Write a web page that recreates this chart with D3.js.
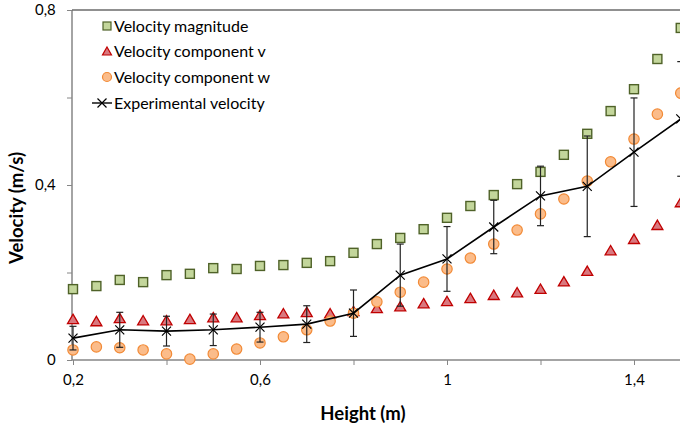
<!DOCTYPE html>
<html>
<head>
<meta charset="utf-8">
<script src="https://cdn.jsdelivr.net/npm/d3@7"></script>
<style>
  html, body { margin: 0; padding: 0; background: #fff; }
  svg { display: block; }
  text { font-family: Lato, "Open Sans", sans-serif; fill: #000; }
</style>
</head>
<body>
<svg id="chart" width="680" height="429"></svg>
<script>
// Height positions (m) of the simulated profile
const heights = [0.2, 0.25, 0.3, 0.35, 0.4, 0.45, 0.5, 0.55, 0.6, 0.65, 0.7, 0.75, 0.8, 0.85,
  0.9, 0.95, 1.0, 1.05, 1.1, 1.15, 1.2, 1.25, 1.3, 1.35, 1.4, 1.45, 1.5];
const velocityMagnitude = [0.162, 0.169, 0.183, 0.178, 0.194, 0.197, 0.210, 0.208, 0.215, 0.217,
  0.222, 0.226, 0.245, 0.265, 0.279, 0.299, 0.325, 0.352, 0.377, 0.402, 0.430, 0.469, 0.517,
  0.569, 0.619, 0.688, 0.759];
const componentV = [0.094, 0.089, 0.096, 0.091, 0.091, 0.094, 0.098, 0.098, 0.103, 0.107, 0.110,
  0.107, 0.112, 0.119, 0.123, 0.130, 0.135, 0.142, 0.149, 0.155, 0.163, 0.180, 0.204, 0.251,
  0.277, 0.309, 0.361];
const componentW = [0.023, 0.030, 0.028, 0.023, 0.014, 0.002, 0.014, 0.025, 0.039, 0.053, 0.069,
  0.089, 0.107, 0.133, 0.155, 0.178, 0.208, 0.233, 0.265, 0.297, 0.334, 0.368, 0.409, 0.453,
  0.505, 0.562, 0.610];

// Measured profile with uncertainty
const expHeights = [0.2, 0.3, 0.4, 0.5, 0.6, 0.7, 0.8, 0.9, 1.0, 1.1, 1.2, 1.3, 1.4, 1.5];
const expVelocity = [0.050, 0.069, 0.066, 0.069, 0.075, 0.082, 0.107, 0.194, 0.231, 0.304, 0.375,
  0.397, 0.475, 0.551];
const expError = [0.027, 0.040, 0.034, 0.036, 0.034, 0.042, 0.053, 0.071, 0.074, 0.061, 0.068,
  0.115, 0.124, 0.131];

const xTicks = [0.2, 0.4, 0.6, 0.8, 1.0, 1.2, 1.4];
const xTickLabels = ["0,2", "", "0,6", "", "1", "", "1,4"];
const yTicks = [0, 0.2, 0.4, 0.6, 0.8];
const yTickLabels = ["0", "", "0,4", "", "0,8"];

const legendLabels = ["Velocity magnitude", "Velocity component v", "Velocity component w",
  "Experimental velocity"];

const svg = d3.select("#chart");
const axisColor = "#868686";

const x = d3.scaleLinear().domain([0.2, 1.4]).range([73, 634]);
const y = d3.scaleLinear().domain([0, 0.8]).range([360, 10]);
const xEnd = 680;

// Axes
const xAxis = svg.append("g").attr("transform", `translate(0,${y(0)})`)
  .call(d3.axisBottom(x).tickValues(xTicks).tickSize(5).tickSizeOuter(0)
    .tickFormat((d, i) => xTickLabels[i]));
xAxis.select(".domain").remove();
xAxis.append("line").attr("x1", x(0.2) - 1).attr("x2", xEnd).attr("stroke", axisColor).attr("stroke-width", 1.5);
xAxis.selectAll(".tick line").attr("stroke", axisColor);
xAxis.selectAll(".tick text").attr("dy", "1.1em").style("font-size", "15px")
  .style("font-family", "Lato, sans-serif").attr("fill", "#000");

const yAxis = svg.append("g").attr("transform", `translate(${x(0.2) - 1},0)`)
  .call(d3.axisLeft(y).tickValues(yTicks).tickSize(5).tickSizeOuter(0)
    .tickFormat((d, i) => yTickLabels[i]));
yAxis.select(".domain").remove();
yAxis.append("line").attr("y1", y(0)).attr("y2", y(0.8)).attr("stroke", axisColor).attr("stroke-width", 1.5);
yAxis.selectAll(".tick line").attr("stroke", axisColor);
yAxis.selectAll(".tick text").attr("dx", "-0.55em").style("font-size", "15px")
  .style("font-family", "Lato, sans-serif").attr("fill", "#000");

// Top border of the plot area
svg.append("line").attr("x1", x(0.2) - 1).attr("x2", xEnd).attr("y1", y(0.8)).attr("y2", y(0.8))
  .attr("stroke", "#6b6b6b").attr("stroke-width", 1.5);

// Axis titles
svg.append("text").attr("x", 363).attr("y", 420).attr("text-anchor", "middle")
  .style("font-size", "18.5px").style("font-weight", "bold").text("Height (m)");
svg.append("text").attr("transform", `translate(23,${208}) rotate(-90)`).attr("text-anchor", "middle")
  .style("font-size", "18.5px").style("font-weight", "bold").text("Velocity (m/s)");

// Marker painters
const sq = 9, tri = 11, circR = 5.2, xs = 4.5;
const sqFill = "#c3d69b", sqStroke = "#4f6228";
const triFill = "#d9787f", triStroke = "#c00000";
const cirFill = "#fbbc8a", cirStroke = "#f28a36";
function drawSquare(g, cx, cy) {
  g.append("rect").attr("x", cx - sq / 2).attr("y", cy - sq / 2).attr("width", sq).attr("height", sq)
    .attr("fill", sqFill).attr("stroke", sqStroke).attr("stroke-width", 1.4);
}
function drawTriangle(g, cx, cy) {
  const h = tri * 0.85;
  g.append("path")
    .attr("d", `M${cx},${cy - h / 2}L${cx + tri / 2},${cy + h / 2}L${cx - tri / 2},${cy + h / 2}Z`)
    .attr("fill", triFill).attr("stroke", triStroke).attr("stroke-width", 1.3)
    .attr("stroke-linejoin", "miter");
}
function drawCircle(g, cx, cy) {
  g.append("circle").attr("cx", cx).attr("cy", cy).attr("r", circR)
    .attr("fill", cirFill).attr("stroke", cirStroke).attr("stroke-width", 1.2);
}
function drawCross(g, cx, cy) {
  g.append("path").attr("d", `M${cx - xs},${cy - xs}L${cx + xs},${cy + xs}M${cx - xs},${cy + xs}L${cx + xs},${cy - xs}`)
    .attr("stroke", "#000").attr("stroke-width", 1.2).attr("fill", "none");
}

const plot = svg.append("g");

// Simulated series
const gMag = plot.append("g");
heights.forEach((h, i) => drawSquare(gMag, x(h), y(velocityMagnitude[i])));
const gV = plot.append("g");
heights.forEach((h, i) => drawTriangle(gV, x(h), y(componentV[i])));
const gW = plot.append("g");
heights.forEach((h, i) => drawCircle(gW, x(h), y(componentW[i])));

// Experimental series: error bars, line and cross markers
const gExp = plot.append("g");
expHeights.forEach((h, i) => {
  const cx = x(h), top = y(expVelocity[i] + expError[i]), bot = y(expVelocity[i] - expError[i]);
  gExp.append("line").attr("x1", cx).attr("x2", cx).attr("y1", top).attr("y2", bot)
    .attr("stroke", "#222").attr("stroke-width", 1.2);
  [top, bot].forEach(yy => gExp.append("line").attr("x1", cx - 3.5).attr("x2", cx + 3.5)
    .attr("y1", yy).attr("y2", yy).attr("stroke", "#222").attr("stroke-width", 1.2));
});
gExp.append("path")
  .datum(expHeights.map((h, i) => [h, expVelocity[i]]))
  .attr("d", d3.line().x(d => x(d[0])).y(d => y(d[1])))
  .attr("fill", "none").attr("stroke", "#000").attr("stroke-width", 1.6);
expHeights.forEach((h, i) => drawCross(gExp, x(h), y(expVelocity[i])));

// Legend
const legend = svg.append("g");
const legendRows = [26, 51, 77, 103];
legendLabels.forEach((label, i) => {
  const ly = legendRows[i];
  if (i === 0) {
    legend.append("rect").attr("x", 103).attr("y", ly - 4).attr("width", 8).attr("height", 8)
      .attr("fill", sqFill).attr("stroke", sqStroke).attr("stroke-width", 1.2);
  } else if (i === 1) {
    legend.append("path").attr("d", `M107,${ly - 4}L111.5,${ly + 4}L102.5,${ly + 4}Z`)
      .attr("fill", triFill).attr("stroke", triStroke).attr("stroke-width", 1.2);
  } else if (i === 2) {
    legend.append("circle").attr("cx", 107).attr("cy", ly).attr("r", 4.5)
      .attr("fill", cirFill).attr("stroke", cirStroke).attr("stroke-width", 1.2);
  } else {
    legend.append("line").attr("x1", 92).attr("x2", 112).attr("y1", ly).attr("y2", ly)
      .attr("stroke", "#000").attr("stroke-width", 1.4);
    drawCross(legend, 102, ly);
  }
  legend.append("text").attr("x", 114).attr("y", ly).attr("dy", "0.35em")
    .style("font-size", "16px").text(label);
});
</script>
</body>
</html>
